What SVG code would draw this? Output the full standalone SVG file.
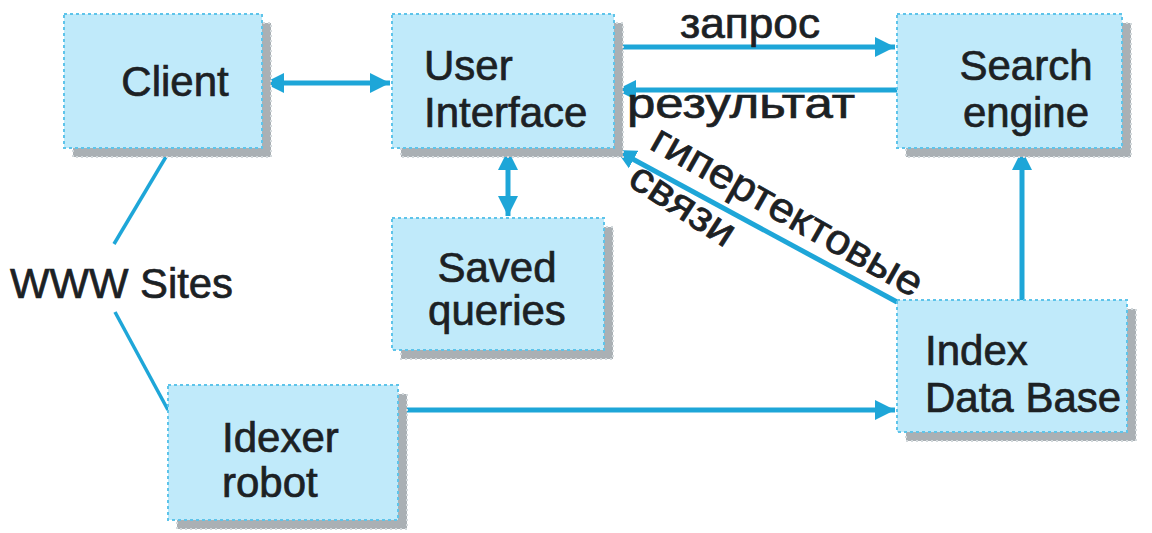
<svg xmlns="http://www.w3.org/2000/svg" width="1152" height="533" viewBox="0 0 1152 533">
<defs>
<style>
.shadow{fill:#aab0b4;stroke:#d3d9dc;stroke-width:2;stroke-dasharray:2 3}
.box{fill:#c0eafa;stroke:#5ec4ea;stroke-width:2;stroke-dasharray:3 3}
.t{font-family:"Liberation Sans",Arial,sans-serif;font-size:42px;fill:#1c2124;stroke:#1c2124;stroke-width:0.7}
.c{text-anchor:middle}
.ln{stroke:#1ea6d8;stroke-width:5;fill:none}
.thin{stroke:#1ea6d8;stroke-width:3.5;fill:none}
</style>
<marker id="ah" markerUnits="userSpaceOnUse" markerWidth="22" markerHeight="22" refX="20" refY="10" orient="auto-start-reverse" viewBox="0 0 22 20">
<path d="M0,0 L20,10 L0,20 z" fill="#1ea6d8"/>
</marker>
</defs>
<rect width="1152" height="533" fill="#ffffff"/>
<g id="connectors">
<line class="ln" x1="264" y1="83" x2="390" y2="83" marker-start="url(#ah)" marker-end="url(#ah)"/>
<line class="ln" x1="614" y1="47" x2="895" y2="47" marker-end="url(#ah)"/>
<line class="ln" x1="897" y1="90" x2="616" y2="90" marker-end="url(#ah)"/>
<line class="ln" x1="508" y1="150" x2="508" y2="216" marker-start="url(#ah)" marker-end="url(#ah)"/>
<line class="ln" x1="897" y1="302" x2="616" y2="150" marker-end="url(#ah)"/>
<line class="ln" x1="1022" y1="300" x2="1022" y2="150" marker-end="url(#ah)"/>
<line class="ln" x1="398" y1="410" x2="895" y2="410" marker-end="url(#ah)"/>
<line class="thin" x1="170" y1="150" x2="114" y2="244"/>
<line class="thin" x1="115" y1="312" x2="168" y2="410"/>
</g>
<g id="client">
<rect class="shadow" x="73" y="23" width="198" height="134"/>
<rect class="box" x="64" y="14" width="198" height="134"/>
<text class="t c" x="175" y="96">Client</text>
</g>
<g id="ui">
<rect class="shadow" x="401" y="23" width="222" height="134"/>
<rect class="box" x="392" y="14" width="222" height="134"/>
<text class="t" x="424" y="80">User</text>
<text class="t" x="424" y="127">Interface</text>
</g>
<g id="search">
<rect class="shadow" x="906" y="23" width="225" height="134"/>
<rect class="box" x="897" y="14" width="225" height="134"/>
<text class="t c" x="1026" y="80">Search</text>
<text class="t c" x="1026" y="127">engine</text>
</g>
<g id="saved">
<rect class="shadow" x="401" y="227" width="212" height="132"/>
<rect class="box" x="392" y="218" width="212" height="132"/>
<text class="t c" x="497" y="282">Saved</text>
<text class="t c" x="497" y="325">queries</text>
</g>
<g id="index">
<rect class="shadow" x="906" y="309" width="230" height="132"/>
<rect class="box" x="897" y="300" width="230" height="132"/>
<text class="t" x="925" y="365">Index</text>
<text class="t" x="925" y="412">Data Base</text>
</g>
<g id="robot">
<rect class="shadow" x="177" y="394" width="230" height="135"/>
<rect class="box" x="168" y="385" width="230" height="135"/>
<text class="t" x="222" y="452">Idexer</text>
<text class="t" x="222" y="497">robot</text>
</g>
<g id="labels">
<text class="t" x="10" y="298" textLength="223" lengthAdjust="spacingAndGlyphs">WWW Sites</text>
<text class="t" x="680" y="38" textLength="140" lengthAdjust="spacingAndGlyphs">запрос</text>
<text class="t" x="627" y="118" textLength="228" lengthAdjust="spacingAndGlyphs">результат</text>
<text class="t" x="648" y="148" transform="rotate(29.5 648 148)" textLength="305" lengthAdjust="spacingAndGlyphs">гипертектовые</text>
<text class="t" x="626" y="184" transform="rotate(33 626 184)" textLength="118" lengthAdjust="spacingAndGlyphs">связи</text>
</g>
</svg>
